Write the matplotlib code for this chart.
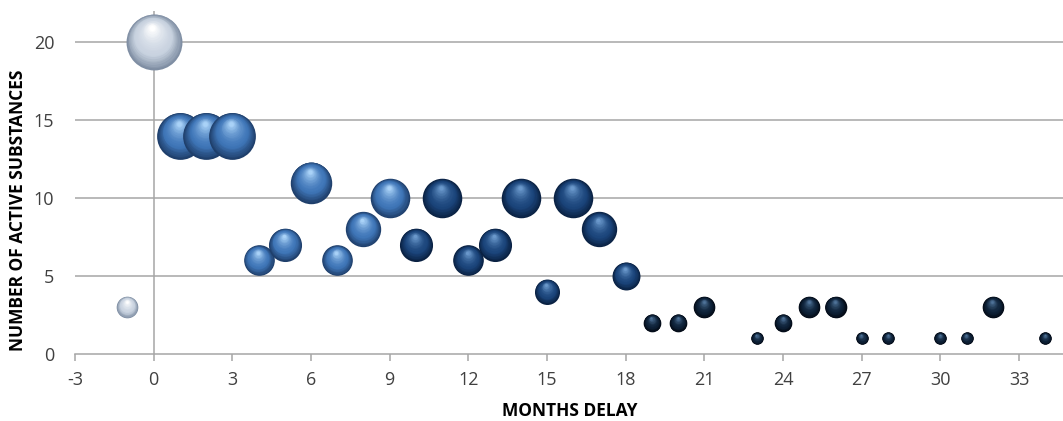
import numpy as np
import matplotlib
matplotlib.use('Agg')
import matplotlib.pyplot as plt
import matplotlib.colors as mcolors
from matplotlib.transforms import offset_copy

plt.rcParams['font.family'] = ['Open Sans', 'DejaVu Sans']
plt.rcParams['axes.unicode_minus'] = False

# months delay, number of active substances (bubble size = count)
months = [-1, 0, 1, 2, 3, 4, 5, 6, 7, 8, 9, 10, 11, 12, 13, 14, 15, 16, 17,
          18, 19, 20, 21, 23, 24, 25, 26, 27, 28, 30, 31, 32, 34]
counts = [3, 20, 14, 14, 14, 6, 7, 11, 6, 8, 10, 7, 10, 6, 7, 10, 4, 10, 8,
          5, 2, 2, 3, 1, 2, 3, 3, 1, 1, 1, 1, 3, 1]
# colour group of each bubble
groups = ['silver', 'silver'] + ['light'] * 9 + ['dark'] * 9 + ['navy'] * 13

# (edge, body, highlight) per group
palette = {
    'silver': ('#7f8ea3', '#c9d3e0', '#ffffff'),
    'light': ('#1f3f6b', '#3f76b8', '#a9d2f7'),
    'dark': ('#0a2142', '#1b457b', '#6a98cb'),
    'navy': ('#040b16', '#0e2239', '#4f7399'),
}

fig = plt.figure(figsize=(10.63, 4.21), dpi=100)
ax = fig.add_axes([0.0706, 0.159, 0.93, 0.815])

ax.set_xlim(-3, 34.7)
ax.set_ylim(0, 22)
ax.set_xticks(range(-3, 34, 3))
ax.set_yticks(range(0, 21, 5))

grid_c = '#a6a6a6'
for yv in range(5, 21, 5):
    ax.axhline(yv, color=grid_c, lw=1.1, zorder=1)
ax.axvline(0, color=grid_c, lw=1.1, zorder=1)

for s in ['top', 'right', 'left']:
    ax.spines[s].set_visible(False)
ax.spines['bottom'].set_color(grid_c)
ax.spines['bottom'].set_linewidth(1.1)
ax.tick_params(axis='x', colors=grid_c, length=5, width=1.1, labelcolor='#404040',
               labelsize=13, pad=7)
ax.tick_params(axis='y', length=0, labelcolor='#404040', labelsize=13, pad=15)


def blend(c1, c2, t):
    a = np.array(mcolors.to_rgb(c1))
    b = np.array(mcolors.to_rgb(c2))
    return tuple(a + (b - a) * t)


n_layers = 22
for x, y, g in zip(months, counts, groups):
    edge, body, hi = palette[g]
    d = 9.0 * np.sqrt(y)  # diameter in points
    for i in range(n_layers):
        t = i / (n_layers - 1)
        size = d * (1 - 0.9 * t)
        if t < 0.35:
            col = blend(edge, body, t / 0.35)
        else:
            col = blend(body, hi, ((t - 0.35) / 0.65) ** 1.6)
        tr = offset_copy(ax.transData, fig=fig, x=-0.03 * d * t,
                         y=0.26 * d * t, units='points')
        ax.scatter([x], [y], s=size ** 2, color=col, transform=tr,
                   linewidths=0, zorder=3, clip_on=False)

ax.set_xlabel('MONTHS DELAY', fontsize=12.5, fontweight='bold', color='#000000')
ax.set_ylabel('NUMBER OF ACTIVE SUBSTANCES', fontsize=12.5, fontweight='bold',
              color='#000000')
ax.xaxis.set_label_coords(0.5, -0.166)
ax.yaxis.set_label_coords(-0.0577, 0.42)
ax.xaxis.label.set_va('center')
ax.yaxis.label.set_va('center')

fig.savefig('out.png', dpi=100)
